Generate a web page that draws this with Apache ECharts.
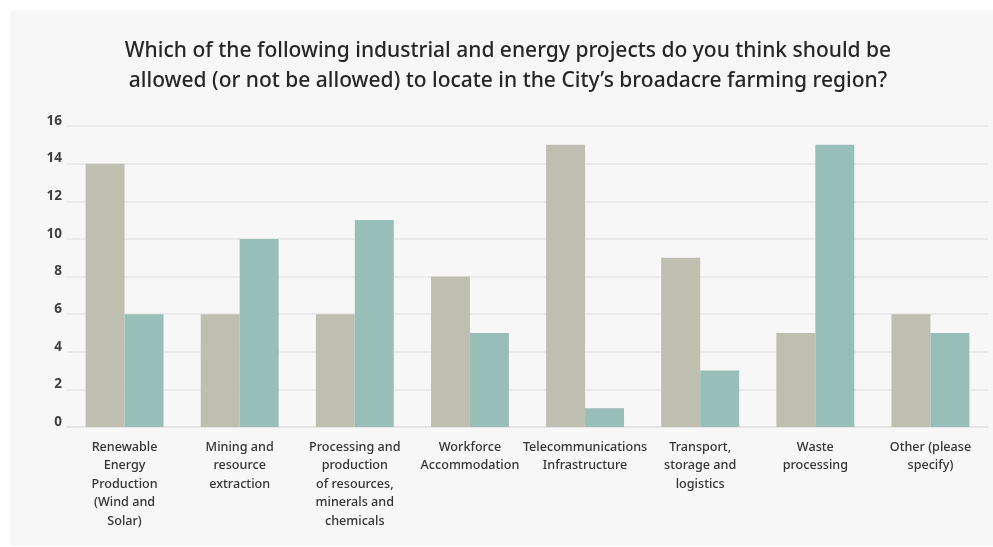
<html>

<head>
    <meta charset='utf-8' />
    <script src="https://cdn.jsdelivr.net/npm/echarts@6/dist/echarts.min.js"></script>
    <title>Broadacre farming region - projects</title>
    <style>
        body {
            margin: 0;
            overflow: hidden;
            background: #ffffff;
        }

        #chart {
            width: 993px;
            height: 547px;
        }
    </style>
</head>

<body>
    <div id="chart"></div>
    <script type="text/javascript">
        var categories = [
            'Renewable\nEnergy\nProduction\n(Wind and\nSolar)',
            'Mining and\nresource\nextraction',
            'Processing and\nproduction\nof resources,\nminerals and\nchemicals',
            'Workforce\nAccommodation',
            'Telecommunications\nInfrastructure',
            'Transport,\nstorage and\nlogistics',
            'Waste\nprocessing',
            'Other (please\nspecify)'
        ];
        var allowedValues = [14, 6, 6, 8, 15, 9, 5, 6];
        var notAllowedValues = [6, 10, 11, 5, 1, 3, 15, 5];
        var yTicks = [0, 2, 4, 6, 8, 10, 12, 14, 16];

        var chart = echarts.init(document.getElementById('chart'), null, {
            renderer: 'canvas'
        });

        var option = {
            backgroundColor: '#ffffff',
            animation: false,
            graphic: [{
                type: 'rect',
                z: -10,
                shape: { x: 10, y: 10, width: 983, height: 536 },
                style: { fill: '#f7f7f7' }
            }],
            title: {
                text: 'Which of the following industrial and energy projects do you think should be\nallowed (or not be allowed) to locate in the City\u2019s broadacre farming region?',
                left: 503,
                textAlign: 'center',
                top: 31,
                textStyle: {
                    fontFamily: 'Noto Sans',
                    fontSize: 21,
                    fontWeight: 500,
                    color: '#262626',
                    lineHeight: 30
                }
            },
            grid: {
                left: 67,
                right: 5,
                top: 126,
                bottom: 120,
                containLabel: false
            },
            xAxis: {
                type: 'category',
                data: categories,
                axisLine: { show: true, lineStyle: { color: '#e3e3e3', width: 1.5 } },
                axisTick: { show: false },
                axisLabel: {
                    interval: 0,
                    margin: 11,
                    fontFamily: 'Noto Sans',
                    fontSize: 12.6,
                    fontWeight: 500,
                    color: '#333333',
                    lineHeight: 18.5,
                    align: 'center'
                }
            },
            yAxis: {
                type: 'value',
                min: yTicks[0],
                max: yTicks[yTicks.length - 1],
                interval: 2,
                axisLine: { show: false },
                axisTick: { show: false },
                splitLine: { lineStyle: { color: '#e6e6e6', width: 1.5 } },
                axisLabel: {
                    margin: 5,
                    verticalAlign: 'bottom',
                    lineHeight: 10,
                    fontFamily: 'Noto Sans',
                    fontWeight: 'bold',
                    fontSize: 13.5,
                    color: '#404040'
                }
            },
            series: [{
                name: 'Allowed',
                type: 'bar',
                data: allowedValues,
                barGap: '0%',
                barCategoryGap: '32.3%',
                itemStyle: { color: '#bfbfb1' }
            }, {
                name: 'Not allowed',
                type: 'bar',
                data: notAllowedValues,
                barGap: '0%',
                barCategoryGap: '32.3%',
                itemStyle: { color: '#98bfb7' }
            }]
        };

        chart.setOption(option);
    </script>
</body>

</html>
